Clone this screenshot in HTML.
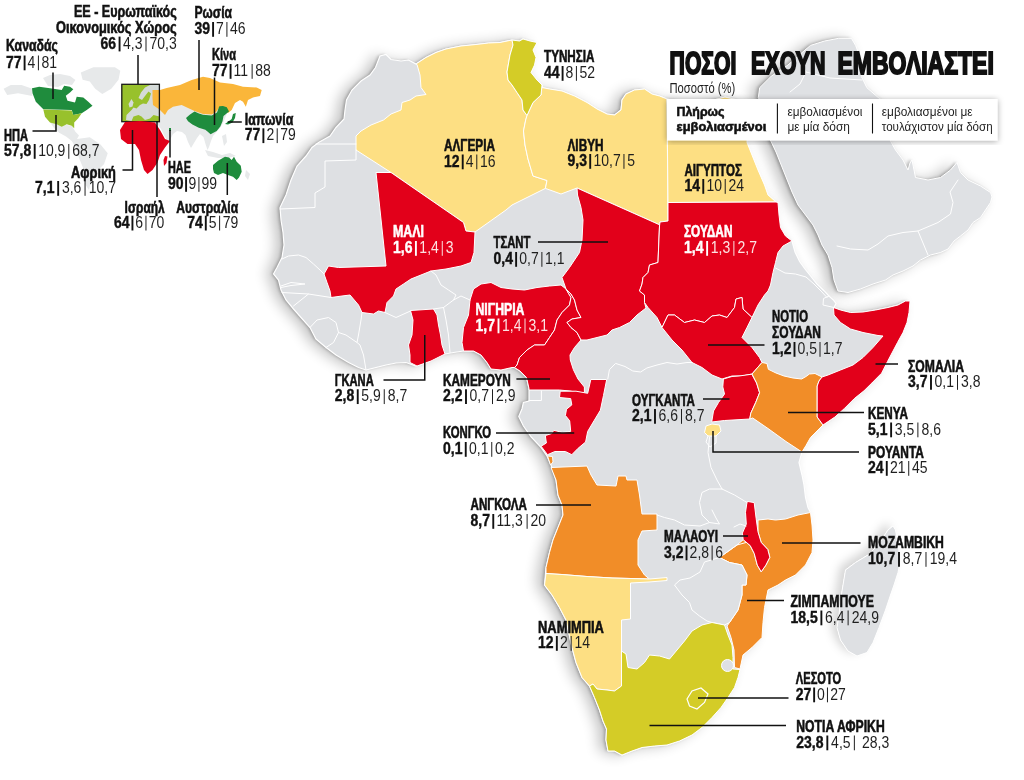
<!DOCTYPE html>
<html><head><meta charset="utf-8"><title>map</title>
<style>
html,body{margin:0;padding:0;background:#fff;}
body{width:1024px;height:780px;overflow:hidden;font-family:"Liberation Sans",sans-serif;}
svg{display:block}
text{font-family:"Liberation Sans",sans-serif;}
.b{font-weight:bold}
</style></head><body>
<svg width="1024" height="780" viewBox="0 0 1024 780">
<defs>
<filter id="sh" x="-10%" y="-10%" width="120%" height="120%" color-interpolation-filters="sRGB">
<feGaussianBlur in="SourceAlpha" stdDeviation="1.6" result="b1"/><feOffset in="b1" dx="-2.2" dy="0" result="o1"/>
<feComponentTransfer in="o1" result="s1"><feFuncA type="linear" slope="0.25"/></feComponentTransfer>
<feGaussianBlur in="SourceAlpha" stdDeviation="7" result="b2"/><feOffset in="b2" dx="-8" dy="1" result="o2"/>
<feComponentTransfer in="o2" result="s2"><feFuncA type="linear" slope="0.24"/></feComponentTransfer>
<feMerge><feMergeNode in="s2"/><feMergeNode in="s1"/><feMergeNode in="SourceGraphic"/></feMerge></filter>
<filter id="sh3" x="-30%" y="-20%" width="160%" height="140%"><feDropShadow dx="-6" dy="-3" stdDeviation="5" flood-color="#000" flood-opacity="0.16"/></filter>
<filter id="sh2" x="-10%" y="-10%" width="120%" height="120%"><feDropShadow dx="0" dy="1" stdDeviation="3" flood-color="#000" flood-opacity="0.35"/></filter>
</defs>
<rect width="1024" height="780" fill="#fff"/>

<g filter="url(#sh)"><path d="M810.5,45.4 L824.6,41 L838.7,38.3 L851.4,38.3 L855.6,45.4 L859.9,56.7 L861.3,76.4 L866.9,87.7 L878.2,97.5 L882,100 L886,120 L890.5,141 L895.5,150 L903,160 L908,170 L910,163 L912,160 L915.5,177.5 L928,180 L940.5,177.5 L950.5,170 L957,162.5 L960.5,172.5 L968,180 L980.5,186 L990.5,192.5 L992,197 L990.5,202.5 L985.5,210 L980.5,217.5 L973,222.5 L968,230 L960.5,236 L954,241 L948,249 L940.5,252.5 L930.5,255 L920.5,260 L913,266 L903,271 L893,275 L885.5,280 L873,284 L860.5,289 L848,292.5 L838,291 L834,280 L832,267.5 L828,255 L822,245 L818,235 L813,225 L805.5,215 L798,205 L792,192 L784,172 L776,152 L768,135 L760,118 L762,105 L758.3,97.5 L759.7,87.7 L771,76.4 L788,65 L800.6,53.8Z" fill="#dfe1e4" stroke="#fff" stroke-width="1"/></g>
<g filter="url(#sh)"><path d="M386,54.5 L391,59.5 L401,61 L408.5,60 L416,64 L426,57.5 L436,52.5 L446,49 L461,46 L476,44.5 L488.5,43 L500,42.5 L512,40 L519.5,41 L523,39 L530,41 L537,42.5 L533,50 L536,57.5 L534.5,65 L531,72.5 L537,80 L542,85 L542,87.5 L549.5,89 L562,91 L574.5,96 L587,102.5 L597,109 L607,114 L614.5,115 L621,110 L622,100 L626,94 L634.5,90 L644.5,89 L652,94 L659.5,96 L667,99 L690,103 L710,101 L725,97 L738,100 L748,105 L747,142.5 L752,155 L758,170 L764.5,185 L768,195 L776,202 L778,202.5 L779,215 L780.5,227.5 L785.5,236 L792,241 L795,252 L799.6,261.5 L805,269 L810.6,276 L817,284 L824,290.7 L829,296 L833.7,300.4 L836,303.5 L834,307.5 L840.5,310 L850.5,312.5 L863,312 L875.5,310 L888,307.5 L898,305 L905.5,301 L910,301 L909,312.5 L907,322.5 L903,332.5 L897.5,342.5 L892.5,352 L887.5,361.5 L881.6,373.2 L871.9,383 L864,390.8 L854.3,398.6 L844.5,408.4 L834.8,417.1 L823,425 L817,431 L810.5,437.5 L806,445.5 L802,452 L799,462.5 L802,475 L804,485 L805.5,497.5 L808,507.5 L810.5,512.5 L812,525 L813,540 L812,552.5 L805.5,565 L795.5,575 L785.5,580 L778,585 L768,590 L764.5,607.5 L763,622.5 L762,637.5 L752,647.5 L743,655 L740,669 L738,677.5 L734.5,687.5 L728,697.5 L721,707.5 L712,717.5 L702,727.5 L692,735 L679.5,741 L667,745 L654.5,746 L642,747.5 L632,751 L622,755 L614.5,751 L608,751 L606,740 L606.5,729 L603,721 L599.5,710 L594.5,697.5 L589.5,686 L582,677.5 L576,662.5 L572,647.5 L566,620 L559.5,607.5 L552,595 L544.5,585 L546,567.5 L549.5,552.5 L553,540 L558,527.5 L563,515 L562,505 L558,495 L556,480 L551,465 L547,456 L541.4,447.8 L531.25,437 L523.4,426 L518.75,416.5 L522,408.75 L523.4,402.5 L529,401 L529,388.5 L526.5,377.5 L520,371 L514.5,367.5 L512,367.5 L501,370 L491,369 L487,362.5 L481,355 L473.5,351 L463.5,351 L453.5,352.5 L445,354 L441,355 L428.5,362 L416,366 L406,362.5 L396,363 L386,365 L376,367.5 L366,370 L358.5,367.5 L348.5,362.5 L336,355 L326,347.5 L316,339 L310,327.5 L301,317.5 L293.5,309 L286,300 L281,290 L278.5,280 L273.5,274 L277,267.5 L282,257.5 L284,245 L283,232.5 L281,220 L280,207.5 L286,195 L291,180 L297,166 L306,156 L312,147.5 L318.5,142.5 L330,136 L336,127.5 L344,119 L345,110 L346.5,100 L352,90 L361,81 L370,75 L375.5,67.5 L380,56Z" fill="#dee0e3"/></g><g filter="url(#sh3)"><path d="M893,526 L888,530 L878,545 L868,555 L855.5,562.5 L845.5,570 L843,585 L840.5,600 L839,615 L837,627.5 L840.5,640 L848,651 L857,656 L867,652.5 L873,642.5 L879,627.5 L885.5,610 L890.5,595 L894,585 L898,572.5 L900.5,560 L898,545 L895.5,530Z" fill="#dee0e3"/></g>
<path d="M386,54.5 L391,59.5 L401,61 L408.5,60 L416,64 L426,57.5 L436,52.5 L446,49 L461,46 L476,44.5 L488.5,43 L500,42.5 L512,40 L519.5,41 L523,39 L530,41 L537,42.5 L533,50 L536,57.5 L534.5,65 L531,72.5 L537,80 L542,85 L542,87.5 L549.5,89 L562,91 L574.5,96 L587,102.5 L597,109 L607,114 L614.5,115 L621,110 L622,100 L626,94 L634.5,90 L644.5,89 L652,94 L659.5,96 L667,99 L690,103 L710,101 L725,97 L738,100 L748,105 L747,142.5 L752,155 L758,170 L764.5,185 L768,195 L776,202 L778,202.5 L779,215 L780.5,227.5 L785.5,236 L792,241 L795,252 L799.6,261.5 L805,269 L810.6,276 L817,284 L824,290.7 L829,296 L833.7,300.4 L836,303.5 L834,307.5 L840.5,310 L850.5,312.5 L863,312 L875.5,310 L888,307.5 L898,305 L905.5,301 L910,301 L909,312.5 L907,322.5 L903,332.5 L897.5,342.5 L892.5,352 L887.5,361.5 L881.6,373.2 L871.9,383 L864,390.8 L854.3,398.6 L844.5,408.4 L834.8,417.1 L823,425 L817,431 L810.5,437.5 L806,445.5 L802,452 L799,462.5 L802,475 L804,485 L805.5,497.5 L808,507.5 L810.5,512.5 L812,525 L813,540 L812,552.5 L805.5,565 L795.5,575 L785.5,580 L778,585 L768,590 L764.5,607.5 L763,622.5 L762,637.5 L752,647.5 L743,655 L740,669 L738,677.5 L734.5,687.5 L728,697.5 L721,707.5 L712,717.5 L702,727.5 L692,735 L679.5,741 L667,745 L654.5,746 L642,747.5 L632,751 L622,755 L614.5,751 L608,751 L606,740 L606.5,729 L603,721 L599.5,710 L594.5,697.5 L589.5,686 L582,677.5 L576,662.5 L572,647.5 L566,620 L559.5,607.5 L552,595 L544.5,585 L546,567.5 L549.5,552.5 L553,540 L558,527.5 L563,515 L562,505 L558,495 L556,480 L551,465 L547,456 L541.4,447.8 L531.25,437 L523.4,426 L518.75,416.5 L522,408.75 L523.4,402.5 L529,401 L529,388.5 L526.5,377.5 L520,371 L514.5,367.5 L512,367.5 L501,370 L491,369 L487,362.5 L481,355 L473.5,351 L463.5,351 L453.5,352.5 L445,354 L441,355 L428.5,362 L416,366 L406,362.5 L396,363 L386,365 L376,367.5 L366,370 L358.5,367.5 L348.5,362.5 L336,355 L326,347.5 L316,339 L310,327.5 L301,317.5 L293.5,309 L286,300 L281,290 L278.5,280 L273.5,274 L277,267.5 L282,257.5 L284,245 L283,232.5 L281,220 L280,207.5 L286,195 L291,180 L297,166 L306,156 L312,147.5 L318.5,142.5 L330,136 L336,127.5 L344,119 L345,110 L346.5,100 L352,90 L361,81 L370,75 L375.5,67.5 L380,56Z" fill="none" stroke="#fff" stroke-width="1.2"/><path d="M893,526 L888,530 L878,545 L868,555 L855.5,562.5 L845.5,570 L843,585 L840.5,600 L839,615 L837,627.5 L840.5,640 L848,651 L857,656 L867,652.5 L873,642.5 L879,627.5 L885.5,610 L890.5,595 L894,585 L898,572.5 L900.5,560 L898,545 L895.5,530Z" fill="none" stroke="#fff" stroke-width="1"/>
<path d="M416,64 L426,57.5 L436,52.5 L446,49 L461,46 L476,44.5 L488.5,43 L500,42.5 L512,40 L513,45 L510,55 L507,72 L508,80 L512,85 L517,92.5 L522,100 L523,110 L527,115.5 L525.7,120 L523.5,131 L525,145 L528,159 L533,176 L547,180.5 L545.4,188.4 L512,205 L506,210 L475,232 L466,231 L463.5,222.5 L457,218 L391,172.5 L356,150 L356,136 L361,131 L371,125 L383.5,120 L391,114 L401,110 L402,102.5 L410,100 L416,96 L426,94.5 L421,87.5 L420,75 L417,64.5Z" fill="#fddf83" stroke="#fff" stroke-width="1" stroke-linejoin="round"/>
<path d="M542,87.5 L549.5,89 L562,91 L574.5,96 L587,102.5 L597,109 L607,114 L614.5,115 L621,110 L622,100 L626,94 L634.5,90 L644.5,89 L652,94 L659.5,96 L667,99 L668,221 L660,222 L660,225 L577,188 L561,194 L545.4,188.4 L547,180.5 L533,176 L528,159 L525,145 L523.5,131 L525.7,120 L527,115.5 L529.5,110 L533,102.5 L541,95 L542,85Z" fill="#fddf83" stroke="#fff" stroke-width="1" stroke-linejoin="round"/>
<path d="M667,99 L690,103 L710,101 L725,97 L738,100 L748,105 L747,142.5 L752,155 L758,170 L764.5,185 L768,195 L776,202 L668,202.5Z" fill="#fddf83" stroke="#fff" stroke-width="1" stroke-linejoin="round"/>
<path d="M512,40 L519.5,41 L523,39 L530,41 L537,42.5 L533,50 L536,57.5 L534.5,65 L531,72.5 L537,80 L542,85 L541,95 L533,102.5 L529.5,110 L527,115.5 L523,110 L522,100 L517,92.5 L512,85 L508,80 L507,72 L510,55 L513,45Z" fill="#d4cc27" stroke="#fff" stroke-width="1" stroke-linejoin="round"/>
<path d="M376,172.5 L391,172.5 L457,218 L463.5,222.5 L466,231 L475,232 L474,252.5 L471,262.5 L461,266 L446,269 L431,271 L421,275 L411,279 L403.5,284 L396,289 L393.5,296 L387,302.5 L385,312.5 L378.5,311 L373.5,314 L362,312.5 L358.5,305 L350,295 L342,296 L331,297.5 L330,291 L327,282.5 L324,274 L328.5,266 L338.5,267.5 L386,266Z" fill="#e2001a" stroke="#fff" stroke-width="1" stroke-linejoin="round"/>
<path d="M410.5,310.5 L433.5,309 L437,315 L438.5,325 L440.5,335 L442,345 L445,354 L431,361 L417,366 L410,362.5 L410,355 L408.5,345 L412,335 L413,320Z" fill="#e2001a" stroke="#fff" stroke-width="1" stroke-linejoin="round"/>
<path d="M470,300 L473.5,289 L481,284 L491,282.5 L501,287.5 L512,289 L524.5,290 L537,287.5 L549.5,286 L561,285 L566,289 L571,297.5 L569.5,305 L562,312.5 L557,320 L554.5,330 L549.5,337.5 L544.5,345 L534.5,345 L527,350 L519.5,357.5 L517,365 L514.5,367.5 L512,367.5 L501,370 L491,369 L487,362.5 L481,355 L473.5,351 L463.5,351 L462,342.5 L463.5,327.5 L468.5,315Z" fill="#e2001a" stroke="#fff" stroke-width="1" stroke-linejoin="round"/>
<path d="M566,289 L571,294 L574.5,300 L577,310 L581,317.5 L572,319 L567,322.5 L571,327.5 L577,332.5 L581,340 L574.5,347.5 L570,355 L570.3,360 L573.4,369.7 L578,379 L584.4,387 L584.4,394 L570,391 L559.4,390 L529,390 L529,388.5 L526.5,377.5 L520,371 L514.5,367.5 L517,365 L519.5,357.5 L527,350 L534.5,345 L544.5,345 L549.5,337.5 L554.5,330 L557,320 L562,312.5 L569.5,305 L571,297.5Z" fill="#e2001a" stroke="#fff" stroke-width="1" stroke-linejoin="round"/>
<path d="M606.7,379.5 L590.8,379.5 L587.7,393.3 L576,391.2 L560.2,391.2 L559.5,397.5 L570.7,398.6 L571.8,404.9 L566.5,409.2 L565.4,415.5 L569.7,420.8 L570.7,431.4 L562.3,432.4 L553.8,430.3 L551.7,433.5 L545.3,435.6 L546.4,443 L541.1,446.2 L547.5,454.7 L554.9,451.5 L565.4,451.5 L571.8,454.7 L578.1,448.3 L585.6,442 L587.7,431.4 L594,420.8 L600.4,410.2 L603.5,395.4Z" fill="#e2001a" stroke="#fff" stroke-width="1" stroke-linejoin="round"/>
<path d="M577,188 L660,225 L659.5,226 L658,262.5 L649.5,265 L648,272.5 L643,277.5 L642,284 L639.5,291 L644.5,295 L644.5,302.5 L646,308 L637,315 L629.5,322.5 L619.5,327.5 L612,330 L607,335 L597,337.5 L587,340 L581,340 L577,332.5 L571,327.5 L567,322.5 L572,319 L581,317.5 L577,310 L574.5,300 L571,294 L566,289 L562,277.5 L569.5,267.5 L579.5,252.5 L582,240 L583,220 L581,207.5 L577.5,195Z" fill="#e2001a" stroke="#fff" stroke-width="1" stroke-linejoin="round"/>
<path d="M668,202.5 L776,202 L778,202.5 L779,215 L780.5,227.5 L785.5,236 L792,241 L783,246 L778,252.5 L775.5,262.5 L773,272.5 L770.5,285 L768,291 L764.5,295 L758,305 L752,317.5 L743,309 L742,297.5 L736,299 L734.5,307.5 L727,317.5 L719.5,315 L712,316 L704.5,322.5 L694.5,320 L684.5,322.5 L674.5,315 L668,315 L662,327.5 L657,317.5 L648,307.5 L644.5,302.5 L644.5,295 L639.5,291 L642,284 L643,277.5 L648,272.5 L649.5,265 L658,262.5 L659.5,226 L660,222 L668,221Z" fill="#e2001a" stroke="#fff" stroke-width="1" stroke-linejoin="round"/>
<path d="M662,327.5 L668,315 L674.5,315 L684.5,322.5 L694.5,320 L704.5,322.5 L712,316 L719.5,315 L727,317.5 L734.5,307.5 L736,299 L742,297.5 L743,309 L752,317.5 L747,327.5 L742,337.5 L752,347.5 L759.5,357.5 L762,362.5 L752,374 L742,376 L732,376 L722,379 L712,375 L702,367.5 L692,362.5 L682,350 L672,340Z" fill="#e2001a" stroke="#fff" stroke-width="1" stroke-linejoin="round"/>
<path d="M723.4,379 L732,376.5 L739,376 L751.8,374.2 L756.6,383 L759.6,392.7 L755.7,402.5 L750.8,413.2 L749.8,419 L724.5,420.5 L711.7,422 L713.5,411 L718.5,402.5 L724.5,394 L722.8,386.9Z" fill="#e2001a" stroke="#fff" stroke-width="1" stroke-linejoin="round"/>
<path d="M752,374 L762,362.5 L767,363.5 L768.4,369.3 L776,373 L784,376 L793,378 L801.6,379 L806,376.5 L809.4,374 L815,373.5 L822,377 L819,381 L817.2,386 L817.2,417 L823,425 L817,431 L810.5,437.5 L806,445.5 L802,452 L786,441.5 L768,428.5 L752.7,418 L749.8,419 L750.8,413.2 L755.7,402.5 L759.6,392.7 L756.6,383Z" fill="#f18d28" stroke="#fff" stroke-width="1" stroke-linejoin="round"/>
<path d="M833.5,307.5 L840.5,310 L850.5,312.5 L863,312 L875.5,310 L888,307.5 L898,305 L905.5,301 L910,301 L909,312.5 L907,322.5 L903,332.5 L897.5,342.5 L892.5,352 L887.5,361.5 L881.6,373.2 L871.9,383 L864,390.8 L854.3,398.6 L844.5,408.4 L834.8,417.1 L823,425 L817.2,417 L817.2,386 L819,381 L822,377 L828,375 L840.5,370 L853,365 L863,357.5 L873,347.5 L883,336 L878,335.5 L863,332.5 L850.5,329 L840.5,322.5 L834,315Z" fill="#e2001a" stroke="#fff" stroke-width="1" stroke-linejoin="round"/>
<path d="M706,426 L712,424 L719.5,425 L721,431 L716,436 L708,436 L704.5,432.5Z" fill="#fddf83" stroke="#fff" stroke-width="1" stroke-linejoin="round"/>
<path d="M551,467.5 L587,466 L591,475 L597,485 L616,486 L618,476 L626,476 L627,480 L637,480 L639.5,495 L642,514 L657,514 L657,530 L642,531 L638,540 L638,565 L644.5,575 L649.5,579 L612,578 L587,576.5 L562,574.5 L546,573.5 L546,567.5 L549.5,552.5 L553,540 L558,527.5 L563,515 L562,505 L558,495 L556,480Z" fill="#f18d28" stroke="#fff" stroke-width="1" stroke-linejoin="round"/>
<path d="M547.5,456 L552.5,456.5 L553,462 L550.5,465Z" fill="#f18d28" stroke="#fff" stroke-width="1" stroke-linejoin="round"/>
<path d="M758,520 L768,519 L775.5,520 L785.5,519 L798,515 L810.5,512.5 L812,525 L813,540 L812,552.5 L805.5,565 L795.5,575 L785.5,580 L778,585 L768,590 L764.5,607.5 L763,622.5 L762,637.5 L752,647.5 L743,655 L740,669 L734.5,667.5 L734,650 L731,637.5 L727,626 L729.5,622.5 L738,610 L742,595 L742,585 L746,585 L747,575 L742,565 L729.5,562.5 L719.5,557.5 L737,545 L743.2,539.7 L750.2,545.6 L754.2,553.4 L757.3,565.1 L761.2,571.8 L765.9,565.1 L769.8,557.3 L767.8,549.5 L761.2,542.4 L758,531.9Z" fill="#f18d28" stroke="#fff" stroke-width="1" stroke-linejoin="round"/>
<path d="M719.5,557.5 L729.5,562.5 L742,565 L747,575 L746,585 L742,585 L742,595 L738,610 L729.5,622.5 L724.5,625 L712,622.5 L707,621 L699.5,616 L692,610 L689.5,602.5 L682,595 L674.5,585 L680,580 L690,578 L700,572 L704.5,562Z" fill="#dee0e3" stroke="#fff" stroke-width="1" stroke-linejoin="round"/>
<path d="M747.1,501.4 L754.2,502.6 L756.1,518.2 L758,531.9 L761.2,542.4 L767.8,549.5 L769.8,557.3 L765.9,565.1 L761.2,571.8 L757.3,565.1 L754.2,553.4 L750.2,545.6 L743.2,539.7 L742.4,533.1 L746.3,524.1 L745.5,512.3Z" fill="#e2001a" stroke="#fff" stroke-width="1" stroke-linejoin="round"/>
<path d="M546,573.5 L562,574.5 L587,576.5 L612,578 L649.5,579 L667,577.5 L667,580.5 L649,582 L630.5,583 L630.5,619 L621.5,620 L621.5,686 L614.5,691 L607,690 L597,689 L593,684 L589.5,686 L582,677.5 L576,662.5 L572,647.5 L566,620 L559.5,607.5 L552,595 L544.5,585Z" fill="#fddf83" stroke="#fff" stroke-width="1" stroke-linejoin="round"/>
<path d="M589.5,686 L593,684 L597,689 L607,690 L614.5,691 L621.5,686 L621.5,651 L626,654 L628,667.5 L637,669 L644.5,662.5 L649.5,655 L659.5,656 L669.5,659 L677,650 L684.5,641 L692,631 L702,625 L712,622.5 L724.5,625 L728,635 L732,645 L733,657.5 L733,669 L740,669.5 L738,677.5 L734.5,687.5 L728,697.5 L721,707.5 L712,717.5 L702,727.5 L692,735 L679.5,741 L667,745 L654.5,746 L642,747.5 L632,751 L622,755 L614.5,751 L608,751 L606,740 L606.5,729 L603,721 L599.5,710 L594.5,697.5Z" fill="#d4cc27" stroke="#fff" stroke-width="1" stroke-linejoin="round"/>
<path d="M687,699 L692,691 L701,688 L708,694 L704.5,702.5 L697,709 L689.5,706Z" fill="#d4cc27" stroke="#fff" stroke-width="1.2"/>
<circle cx="727.5" cy="665.5" r="6" fill="#dee0e3" stroke="#fff" stroke-width="1"/>
<g fill="none" stroke="#fff" stroke-width="1" stroke-linejoin="round" stroke-linecap="round">
<path d="M316,144 L356,144"/>
<path d="M356,150 L356,160 L325,161 L325,187 L315,193 L315,207.5 L280,209"/>
<path d="M282,259 L288.5,256 L298.5,255 L306,257.5 L313.5,264 L320,270 L324,274"/>
<path d="M281,286 L291,282.5 L305,284 L291,285.5 L281,287.5"/>
<path d="M282,292.5 L308.5,294 L331,297.5"/>
<path d="M308.5,294 L301,300 L293.5,306"/>
<path d="M310,327.5 L317,320 L328.5,317.5 L336,322.5 L338.5,332.5 L333.5,342.5 L326,347.5"/>
<path d="M338.5,332.5 L346,335 L357,342.5 L358.5,335"/>
<path d="M357,342.5 L360,345 L363.5,355 L366,370"/>
<path d="M358.5,335 L361,320 L362,312.5"/>
<path d="M385,312.5 L396,317.5 L410.5,311"/>
<path d="M431,271 L436,275 L441,285 L448.5,290 L456,295 L453.5,300"/>
<path d="M433.5,309 L443.5,307.5 L453.5,300 L461,296 L470,300"/>
<path d="M443.5,307.5 L446,320 L448.5,335 L450,352.5"/>
<path d="M607.8,379 L609.4,369.7 L615.6,363.4 L625,366.5 L632.8,371 L640.6,372 L646.9,368 L657,365 L667,362.5 L677,364 L687,362.5 L692,362.5"/>
<path d="M529,400.5 L541.4,400.5 L541.4,391"/>
<path d="M775.5,268 L785,273 L795.5,274 L806,277 L814,284 L821,291 L827,297.5"/>
<path d="M829,296 L823.5,298.5 L823,305 L834,307.5"/>
<path d="M709.5,437.5 L708,452.5 L711,467.5 L717,480 L722,489"/>
<path d="M708,436 L706,442 L710,447 L716,443 L716,436"/>
<path d="M722,489 L734.5,495 L744.5,501 L747,502.5"/>
<path d="M722,489 L709.5,489 L702,492.5 L699.5,502.5 L702,515 L709.5,522.5 L719.5,524 L716,518 L712,510"/>
<path d="M709.5,522.5 L700,526 L684.5,525 L674.5,520 L664.5,517.5 L657,515"/>
<path d="M719.5,557.5 L737,545 L746,542.5"/>
<path d="M746,526 L740,524 L734,527"/>
<path d="M837,246 L850.5,249 L868,250 L878,244 L888,236 L903,232.5 L918,231 L938,222.5 L950.5,214 L953,202.5 L950,192 L958,180"/>
<path d="M918,231 L928,255"/>
<path d="M800,60 L806,72 L800,84 L790,92"/>
<path d="M806,72 L830,78 L862,80"/>
</g>
<path d="M3.6,88.7 L10.8,85.1 L21.5,85.1 L32.3,88.7 L32.3,95.9 L18,93.2 L7.2,95Z" fill="#e7e9ea"/>
<path d="M43,78 L50,75 L60,74 L70,76 L75.4,80 L72,85 L64,84 L58,87 L48,86Z" fill="#e7e9ea"/>
<path d="M80.8,72.6 L93.4,67.2 L114.9,67.2 L120.3,70.8 L118.5,79.7 L111.3,88.7 L102.3,94.1 L95.2,88.7 L89.8,81.5 L82.6,79.7Z" fill="#e7e9ea"/>
<path d="M50,122 L62,124 L72,126 L75.4,131.8 L79,135.4 L77,139 L89.8,137.2 L100.5,144.4 L107.7,153.3 L104.1,164.1 L97,171.3 L91.6,178.5 L89,190 L85,184 L84,170 L79,158 L76,148 L71.8,141 L66,136.5 L59.2,132.8 L54,128Z" fill="#e7e9ea"/>
<path d="M152,98 L160,104 L175,103 L190,104 L205,106 L220,104 L228,110 L226,116 L223,123 L220,128 L216.7,131.7 L213,136 L211,141 L209,147 L207.5,150 L205.5,144 L203.5,137 L200,134 L197,138 L194,143 L191,148 L188,142 L185.5,135 L182,132 L177,131 L173,134 L170.5,139 L168,142 L164.5,136 L161,129 L157.5,124 L154,122 L152,118Z" fill="#e7e9ea"/>
<path d="M205,150 L213,152 L222,155 L230,153 L236,156 L228,158 L218,158 L208,156Z" fill="#e7e9ea"/>
<path d="M222,136 L226,134 L227,142 L224,146Z" fill="#e7e9ea"/>
<path d="M246,170 L250,174 L248,180 L245,176Z" fill="#e7e9ea"/>
<rect x="121.8" y="84.3" width="37.6" height="37.4" fill="#98c12c"/>
<path d="M159.4,85 L150,85 L145,87.5 L141,92.5 L138.5,98 L142,100 L145,96 L148.5,91.5 L151,93.5 L149,100 L146.5,104 L143,103.5 L140,105 L136.5,108.5 L133.5,107.5 L131.5,110 L126.5,115 L126,120 L131.5,121 L133.5,116.5 L138.5,115 L141.5,116.5 L145,120 L150,118.5 L153.5,115 L159.4,116.5Z" fill="#d5dbd9"/>
<path d="M131.5,99 L133.5,102.5 L132.5,106.5 L129.5,107.5 L128.5,104Z" fill="#d5dbd9"/>
<path d="M152.5,90 L160,90 L166.7,88 L180,85 L191.7,80 L203,76.7 L210,78 L220,82.5 L233,84 L243,86.7 L256.7,87.5 L261.7,90 L260,96 L253,97.5 L248,100 L245.8,106.7 L243,101.7 L240,100 L235,103 L231.7,110 L228,113 L225,110 L220,106.5 L216,112 L211.7,114.5 L203,114 L194.5,111 L188,108 L181.7,105 L173,106.7 L168,110 L165,115 L160,110 L153,105 L152.5,98Z" fill="#fab63a"/>
<rect x="121.8" y="84.3" width="37.6" height="37.4" fill="none" stroke="#1a1a1a" stroke-width="1.3"/>
<path d="M32,88.3 L39.2,86.7 L50,88.3 L61.7,90 L64.2,85.8 L70,86.7 L73.3,89.2 L70,92.5 L65.8,95.8 L67.5,100.8 L75,102.5 L76.7,96.7 L83.3,97.5 L88.3,101.7 L92.5,105.8 L86.7,110 L81.7,113.3 L73.3,115 L71.7,110 L43.3,109.2 L35.8,101.7 L32.5,93.3Z" fill="#1f8c3d"/>
<path d="M43.3,109.6 L71.7,110.4 L73.3,115 L81.7,113.3 L78.3,118.3 L74.2,122.5 L74.2,128.3 L71.7,125.8 L66.7,124.2 L61.7,126.7 L56.7,124.2 L50,122.5 L45,116.7Z" fill="#98c12c"/>
<path d="M186,118 L190,114.5 L194.5,111.6 L199,113.5 L203,114.8 L211.7,115.5 L217,112.6 L219.3,106.2 L223,106 L226.8,107.3 L229,111.6 L223.5,115.9 L222.5,121.2 L220.3,126.6 L216.7,131 L213.9,132.5 L210.6,134.2 L207.5,131.5 L205.3,129.8 L198.8,127.7 L192.4,124.5 L188,121.2Z" fill="#1f8c3d"/>
<path d="M225,124 L228,121.7 L231.7,119 L233,114 L235.8,113 L235,118 L232.5,122.5 L228,124.5Z" fill="#1f8c3d"/>
<path d="M213,165 L218,160.8 L225,156.7 L229,157.5 L231.7,160 L234,156.7 L236.7,161.7 L240.8,165.8 L241.7,171.7 L239,177.5 L236.7,180 L233,176.7 L228,175 L223,173 L218,175 L214,173 L213,169Z" fill="#1f8c3d"/>
<path d="M169,128 L171,128 L171,131 L169,131Z" fill="#1f8c3d"/>
<path d="M125,122 L140,121 L155,122.5 L160,130 L165,139 L170,141 L165,147.5 L160,155 L157.5,162.5 L152.5,170 L147.5,174 L144,170 L141,160 L139,150 L135,144 L127.5,144 L121,139 L120,130Z" fill="#e2001a"/>
<path d="M165,156 L167.5,156.5 L166.5,163 L164,166 L163.5,160Z" fill="#e2001a"/>
<g filter="url(#sh2)"><rect x="667" y="99" width="330.5" height="41.5" fill="#fff"/></g>
<path d="M777.4,103.5V133.5M872.5,103.5V133.5" stroke="#111" stroke-width="1.1"/>
<g fill="none" stroke="#111" stroke-width="1.5">
<path d="M538,242 L608,242"/>
<path d="M708,345 L764.5,345"/>
<path d="M516.4,379 L550,379"/>
<path d="M424.75,335 L424.75,380 L383.5,380"/>
<path d="M496,433 L574.2,433"/>
<path d="M875.5,364 L898,364"/>
<path d="M703,399 L729.5,399"/>
<path d="M788,412.5 L864,412.5"/>
<path d="M713,431 L713,452 L859,452"/>
<path d="M536,505 L591,505"/>
<path d="M723,536 L748,536"/>
<path d="M782,543 L860.5,543"/>
<path d="M747,600.5 L784,600.5"/>
<path d="M698,698 L788.5,698"/>
<path d="M649.5,725.5 L786,725.5"/>
<path d="M138,55 L138,84"/>
<path d="M199,40 L199,90"/>
<path d="M214.5,77.5 L214.5,125"/>
<path d="M53,72.5 L53,99"/>
<path d="M32.5,131 L56,131 L56,115"/>
<path d="M122.5,170 L132.5,170 L132.5,130"/>
<path d="M170,130 L170,157.5"/>
<path d="M157,121 L157,197"/>
<path d="M227.3,163 L227.3,195"/>
<path d="M227.7,122 L241.8,122"/>
</g>
<g opacity="0.999">
<text xml:space="preserve" transform="translate(544,62) scale(0.7167,1)" font-size="16.3" font-weight="bold" fill="#111" stroke="#111" stroke-width="0.6" stroke-linejoin="miter">ΤΥΝΗΣΙΑ</text>
<text xml:space="preserve" transform="translate(544.00,78) scale(0.875,1)" font-size="16" font-weight="bold" fill="#111" stroke="#111" stroke-width="0.4">44</text>
<path d="M562.59,66.00V80.80" stroke="#111" stroke-width="1.9"/>
<text xml:space="preserve" transform="translate(565.61,78) scale(0.875,1)" font-size="16" fill="#1f1f1f">8</text>
<path d="M576.41,66.00V80.80" stroke="#1f1f1f" stroke-width="1"/>
<text xml:space="preserve" transform="translate(579.43,78) scale(0.875,1)" font-size="16" fill="#1f1f1f">52</text>
<text xml:space="preserve" transform="translate(444,151.3) scale(0.7234,1)" font-size="16.3" font-weight="bold" fill="#111" stroke="#111" stroke-width="0.6" stroke-linejoin="miter">ΑΛΓΕΡΙΑ</text>
<text xml:space="preserve" transform="translate(444.00,166.5) scale(0.875,1)" font-size="16" font-weight="bold" fill="#111" stroke="#111" stroke-width="0.4">12</text>
<path d="M462.71,154.50V169.30" stroke="#111" stroke-width="1.9"/>
<text xml:space="preserve" transform="translate(465.86,166.5) scale(0.875,1)" font-size="16" fill="#1f1f1f">4</text>
<path d="M476.79,154.50V169.30" stroke="#1f1f1f" stroke-width="1"/>
<text xml:space="preserve" transform="translate(479.93,166.5) scale(0.875,1)" font-size="16" fill="#1f1f1f">16</text>
<text xml:space="preserve" transform="translate(567.5,150.8) scale(0.7226,1)" font-size="16.3" font-weight="bold" fill="#111" stroke="#111" stroke-width="0.6" stroke-linejoin="miter">ΛΙΒΥΗ</text>
<text xml:space="preserve" transform="translate(567.50,166) scale(0.875,1)" font-size="16" font-weight="bold" fill="#111" stroke="#111" stroke-width="0.4">9,3</text>
<path d="M590.21,154.00V168.80" stroke="#111" stroke-width="1.9"/>
<text xml:space="preserve" transform="translate(593.47,166) scale(0.875,1)" font-size="16" fill="#1f1f1f">10,7</text>
<path d="M623.96,154.00V168.80" stroke="#1f1f1f" stroke-width="1"/>
<text xml:space="preserve" transform="translate(627.22,166) scale(0.875,1)" font-size="16" fill="#1f1f1f">5</text>
<text xml:space="preserve" transform="translate(684.5,175.5) scale(0.7110,1)" font-size="16.3" font-weight="bold" fill="#111" stroke="#111" stroke-width="0.6" stroke-linejoin="miter">ΑΙΓΥΠΤΟΣ</text>
<text xml:space="preserve" transform="translate(684.50,191) scale(0.875,1)" font-size="16" font-weight="bold" fill="#111" stroke="#111" stroke-width="0.4">14</text>
<path d="M703.27,179.00V193.80" stroke="#111" stroke-width="1.9"/>
<text xml:space="preserve" transform="translate(706.47,191) scale(0.875,1)" font-size="16" fill="#1f1f1f">10</text>
<path d="M725.23,179.00V193.80" stroke="#1f1f1f" stroke-width="1"/>
<text xml:space="preserve" transform="translate(728.43,191) scale(0.875,1)" font-size="16" fill="#1f1f1f">24</text>
<text xml:space="preserve" transform="translate(393,236.8) scale(0.7607,1)" font-size="16.3" font-weight="bold" fill="#fff" stroke="#fff" stroke-width="0.6" stroke-linejoin="miter">ΜΑΛΙ</text>
<text xml:space="preserve" transform="translate(393.00,253) scale(0.875,1)" font-size="16" font-weight="bold" fill="#fff" stroke="#fff" stroke-width="0.4">1,6</text>
<path d="M415.91,241.00V255.80" stroke="#fff" stroke-width="1.9"/>
<text xml:space="preserve" transform="translate(419.36,253) scale(0.875,1)" font-size="16" fill="#fde3e3">1,4</text>
<path d="M442.27,241.00V255.80" stroke="#fde3e3" stroke-width="1"/>
<text xml:space="preserve" transform="translate(445.72,253) scale(0.875,1)" font-size="16" fill="#fde3e3">3</text>
<text xml:space="preserve" transform="translate(493.5,248.3) scale(0.6949,1)" font-size="16.3" font-weight="bold" fill="#111" stroke="#111" stroke-width="0.6" stroke-linejoin="miter">ΤΣΑΝΤ</text>
<text xml:space="preserve" transform="translate(493.50,264) scale(0.875,1)" font-size="16" font-weight="bold" fill="#111" stroke="#111" stroke-width="0.4">0,4</text>
<path d="M516.12,252.00V266.80" stroke="#111" stroke-width="1.9"/>
<text xml:space="preserve" transform="translate(519.27,264) scale(0.875,1)" font-size="16" fill="#1f1f1f">0,7</text>
<path d="M541.88,252.00V266.80" stroke="#1f1f1f" stroke-width="1"/>
<text xml:space="preserve" transform="translate(545.04,264) scale(0.875,1)" font-size="16" fill="#1f1f1f">1,1</text>
<text xml:space="preserve" transform="translate(684,237.3) scale(0.7276,1)" font-size="16.3" font-weight="bold" fill="#fff" stroke="#fff" stroke-width="0.6" stroke-linejoin="miter">ΣΟΥΔΑΝ</text>
<text xml:space="preserve" transform="translate(684.00,253) scale(0.875,1)" font-size="16" font-weight="bold" fill="#fff" stroke="#fff" stroke-width="0.4">1,4</text>
<path d="M707.12,241.00V255.80" stroke="#fff" stroke-width="1.9"/>
<text xml:space="preserve" transform="translate(710.77,253) scale(0.875,1)" font-size="16" fill="#fde3e3">1,3</text>
<path d="M733.88,241.00V255.80" stroke="#fde3e3" stroke-width="1"/>
<text xml:space="preserve" transform="translate(737.54,253) scale(0.875,1)" font-size="16" fill="#fde3e3">2,7</text>
<text xml:space="preserve" transform="translate(475.5,314.8) scale(0.7533,1)" font-size="16.3" font-weight="bold" fill="#fff" stroke="#fff" stroke-width="0.6" stroke-linejoin="miter">ΝΙΓΗΡΙΑ</text>
<text xml:space="preserve" transform="translate(475.50,330.5) scale(0.875,1)" font-size="16" font-weight="bold" fill="#fff" stroke="#fff" stroke-width="0.4">1,7</text>
<path d="M498.49,318.50V333.30" stroke="#fff" stroke-width="1.9"/>
<text xml:space="preserve" transform="translate(502.02,330.5) scale(0.875,1)" font-size="16" fill="#fde3e3">1,4</text>
<path d="M525.01,318.50V333.30" stroke="#fde3e3" stroke-width="1"/>
<text xml:space="preserve" transform="translate(528.54,330.5) scale(0.875,1)" font-size="16" fill="#fde3e3">3,1</text>
<text xml:space="preserve" transform="translate(908,371.8) scale(0.7467,1)" font-size="16.3" font-weight="bold" fill="#111" stroke="#111" stroke-width="0.6" stroke-linejoin="miter">ΣΟΜΑΛΙΑ</text>
<text xml:space="preserve" transform="translate(908.00,387) scale(0.875,1)" font-size="16" font-weight="bold" fill="#111" stroke="#111" stroke-width="0.4">3,7</text>
<path d="M930.99,375.00V389.80" stroke="#111" stroke-width="1.9"/>
<text xml:space="preserve" transform="translate(934.52,387) scale(0.875,1)" font-size="16" fill="#1f1f1f">0,1</text>
<path d="M957.51,375.00V389.80" stroke="#1f1f1f" stroke-width="1"/>
<text xml:space="preserve" transform="translate(961.04,387) scale(0.875,1)" font-size="16" fill="#1f1f1f">3,8</text>
<text xml:space="preserve" transform="translate(334.75,385.8) scale(0.6854,1)" font-size="16.3" font-weight="bold" fill="#111" stroke="#111" stroke-width="0.6" stroke-linejoin="miter">ΓΚΑΝΑ</text>
<text xml:space="preserve" transform="translate(334.75,401.25) scale(0.875,1)" font-size="16" font-weight="bold" fill="#111" stroke="#111" stroke-width="0.4">2,8</text>
<path d="M357.74,389.25V404.05" stroke="#111" stroke-width="1.9"/>
<text xml:space="preserve" transform="translate(361.27,401.25) scale(0.875,1)" font-size="16" fill="#1f1f1f">5,9</text>
<path d="M384.26,389.25V404.05" stroke="#1f1f1f" stroke-width="1"/>
<text xml:space="preserve" transform="translate(387.79,401.25) scale(0.875,1)" font-size="16" fill="#1f1f1f">8,7</text>
<text xml:space="preserve" transform="translate(443,385.5) scale(0.7254,1)" font-size="16.3" font-weight="bold" fill="#111" stroke="#111" stroke-width="0.6" stroke-linejoin="miter">ΚΑΜΕΡΟΥΝ</text>
<text xml:space="preserve" transform="translate(443.00,401.25) scale(0.875,1)" font-size="16" font-weight="bold" fill="#111" stroke="#111" stroke-width="0.4">2,2</text>
<path d="M465.99,389.25V404.05" stroke="#111" stroke-width="1.9"/>
<text xml:space="preserve" transform="translate(469.52,401.25) scale(0.875,1)" font-size="16" fill="#1f1f1f">0,7</text>
<path d="M492.51,389.25V404.05" stroke="#1f1f1f" stroke-width="1"/>
<text xml:space="preserve" transform="translate(496.04,401.25) scale(0.875,1)" font-size="16" fill="#1f1f1f">2,9</text>
<text xml:space="preserve" transform="translate(632,405.8) scale(0.7100,1)" font-size="16.3" font-weight="bold" fill="#111" stroke="#111" stroke-width="0.6" stroke-linejoin="miter">ΟΥΓΚΑΝΤΑ</text>
<text xml:space="preserve" transform="translate(632.00,421) scale(0.875,1)" font-size="16" font-weight="bold" fill="#111" stroke="#111" stroke-width="0.4">2,1</text>
<path d="M654.99,409.00V423.80" stroke="#111" stroke-width="1.9"/>
<text xml:space="preserve" transform="translate(658.52,421) scale(0.875,1)" font-size="16" fill="#1f1f1f">6,6</text>
<path d="M681.51,409.00V423.80" stroke="#1f1f1f" stroke-width="1"/>
<text xml:space="preserve" transform="translate(685.04,421) scale(0.875,1)" font-size="16" fill="#1f1f1f">8,7</text>
<text xml:space="preserve" transform="translate(868,418.8) scale(0.7196,1)" font-size="16.3" font-weight="bold" fill="#111" stroke="#111" stroke-width="0.6" stroke-linejoin="miter">ΚΕΝΥΑ</text>
<text xml:space="preserve" transform="translate(868.00,434.5) scale(0.875,1)" font-size="16" font-weight="bold" fill="#111" stroke="#111" stroke-width="0.4">5,1</text>
<path d="M891.12,422.50V437.30" stroke="#111" stroke-width="1.9"/>
<text xml:space="preserve" transform="translate(894.77,434.5) scale(0.875,1)" font-size="16" fill="#1f1f1f">3,5</text>
<path d="M917.88,422.50V437.30" stroke="#1f1f1f" stroke-width="1"/>
<text xml:space="preserve" transform="translate(921.54,434.5) scale(0.875,1)" font-size="16" fill="#1f1f1f">8,6</text>
<text xml:space="preserve" transform="translate(443,438) scale(0.6958,1)" font-size="16.3" font-weight="bold" fill="#111" stroke="#111" stroke-width="0.6" stroke-linejoin="miter">ΚΟΝΓΚΟ</text>
<text xml:space="preserve" transform="translate(443.00,454) scale(0.875,1)" font-size="16" font-weight="bold" fill="#111" stroke="#111" stroke-width="0.4">0,1</text>
<path d="M465.74,442.00V456.80" stroke="#111" stroke-width="1.9"/>
<text xml:space="preserve" transform="translate(469.02,454) scale(0.875,1)" font-size="16" fill="#1f1f1f">0,1</text>
<path d="M491.76,442.00V456.80" stroke="#1f1f1f" stroke-width="1"/>
<text xml:space="preserve" transform="translate(495.04,454) scale(0.875,1)" font-size="16" fill="#1f1f1f">0,2</text>
<text xml:space="preserve" transform="translate(868,457.8) scale(0.7315,1)" font-size="16.3" font-weight="bold" fill="#111" stroke="#111" stroke-width="0.6" stroke-linejoin="miter">ΡΟΥΑΝΤΑ</text>
<text xml:space="preserve" transform="translate(868.00,473) scale(0.875,1)" font-size="16" font-weight="bold" fill="#111" stroke="#111" stroke-width="0.4">24</text>
<path d="M886.77,461.00V475.80" stroke="#111" stroke-width="1.9"/>
<text xml:space="preserve" transform="translate(889.97,473) scale(0.875,1)" font-size="16" fill="#1f1f1f">21</text>
<path d="M908.73,461.00V475.80" stroke="#1f1f1f" stroke-width="1"/>
<text xml:space="preserve" transform="translate(911.93,473) scale(0.875,1)" font-size="16" fill="#1f1f1f">45</text>
<text xml:space="preserve" transform="translate(470.5,510.2) scale(0.7129,1)" font-size="16.3" font-weight="bold" fill="#111" stroke="#111" stroke-width="0.6" stroke-linejoin="miter">ΑΝΓΚΟΛΑ</text>
<text xml:space="preserve" transform="translate(470.50,526) scale(0.875,1)" font-size="16" font-weight="bold" fill="#111" stroke="#111" stroke-width="0.4">8,7</text>
<path d="M493.27,514.00V528.80" stroke="#111" stroke-width="1.9"/>
<text xml:space="preserve" transform="translate(496.57,526) scale(0.875,1)" font-size="16" fill="#1f1f1f">11,3</text>
<path d="M527.12,514.00V528.80" stroke="#1f1f1f" stroke-width="1"/>
<text xml:space="preserve" transform="translate(530.43,526) scale(0.875,1)" font-size="16" fill="#1f1f1f">20</text>
<text xml:space="preserve" transform="translate(664,541.8) scale(0.7182,1)" font-size="16.3" font-weight="bold" fill="#111" stroke="#111" stroke-width="0.6" stroke-linejoin="miter">ΜΑΛΑΟΥΙ</text>
<text xml:space="preserve" transform="translate(664.00,557.5) scale(0.875,1)" font-size="16" font-weight="bold" fill="#111" stroke="#111" stroke-width="0.4">3,2</text>
<path d="M686.53,545.50V560.30" stroke="#111" stroke-width="1.9"/>
<text xml:space="preserve" transform="translate(689.61,557.5) scale(0.875,1)" font-size="16" fill="#1f1f1f">2,8</text>
<path d="M712.14,545.50V560.30" stroke="#1f1f1f" stroke-width="1"/>
<text xml:space="preserve" transform="translate(715.22,557.5) scale(0.875,1)" font-size="16" fill="#1f1f1f">6</text>
<text xml:space="preserve" transform="translate(868,548.3) scale(0.7494,1)" font-size="16.3" font-weight="bold" fill="#111" stroke="#111" stroke-width="0.6" stroke-linejoin="miter">ΜΟΖΑΜΒΙΚΗ</text>
<text xml:space="preserve" transform="translate(868.00,564) scale(0.875,1)" font-size="16" font-weight="bold" fill="#111" stroke="#111" stroke-width="0.4">10,7</text>
<path d="M899.01,552.00V566.80" stroke="#111" stroke-width="1.9"/>
<text xml:space="preserve" transform="translate(902.77,564) scale(0.875,1)" font-size="16" fill="#1f1f1f">8,7</text>
<path d="M925.99,552.00V566.80" stroke="#1f1f1f" stroke-width="1"/>
<text xml:space="preserve" transform="translate(929.76,564) scale(0.875,1)" font-size="16" fill="#1f1f1f">19,4</text>
<text xml:space="preserve" transform="translate(790.5,606.8) scale(0.7528,1)" font-size="16.3" font-weight="bold" fill="#111" stroke="#111" stroke-width="0.6" stroke-linejoin="miter">ΖΙΜΠΑΜΠΟΥΕ</text>
<text xml:space="preserve" transform="translate(790.50,622.5) scale(0.875,1)" font-size="16" font-weight="bold" fill="#111" stroke="#111" stroke-width="0.4">18,5</text>
<path d="M821.38,610.50V625.30" stroke="#111" stroke-width="1.9"/>
<text xml:space="preserve" transform="translate(825.02,622.5) scale(0.875,1)" font-size="16" fill="#1f1f1f">6,4</text>
<path d="M848.12,610.50V625.30" stroke="#1f1f1f" stroke-width="1"/>
<text xml:space="preserve" transform="translate(851.76,622.5) scale(0.875,1)" font-size="16" fill="#1f1f1f">24,9</text>
<text xml:space="preserve" transform="translate(538,632.8) scale(0.7923,1)" font-size="16.3" font-weight="bold" fill="#111" stroke="#111" stroke-width="0.6" stroke-linejoin="miter">ΝΑΜΙΜΠΙΑ</text>
<text xml:space="preserve" transform="translate(538.00,648) scale(0.875,1)" font-size="16" font-weight="bold" fill="#111" stroke="#111" stroke-width="0.4">12</text>
<path d="M556.84,636.00V650.80" stroke="#111" stroke-width="1.9"/>
<text xml:space="preserve" transform="translate(560.11,648) scale(0.875,1)" font-size="16" fill="#1f1f1f">2</text>
<path d="M571.16,636.00V650.80" stroke="#1f1f1f" stroke-width="1"/>
<text xml:space="preserve" transform="translate(574.43,648) scale(0.875,1)" font-size="16" fill="#1f1f1f">14</text>
<text xml:space="preserve" transform="translate(795.8,683.8) scale(0.6836,1)" font-size="16.3" font-weight="bold" fill="#111" stroke="#111" stroke-width="0.6" stroke-linejoin="miter">ΛΕΣΟΤΟ</text>
<text xml:space="preserve" transform="translate(795.80,699.5) scale(0.875,1)" font-size="16" font-weight="bold" fill="#111" stroke="#111" stroke-width="0.4">27</text>
<path d="M814.14,687.50V702.30" stroke="#111" stroke-width="1.9"/>
<text xml:space="preserve" transform="translate(816.91,699.5) scale(0.875,1)" font-size="16" fill="#1f1f1f">0</text>
<path d="M827.46,687.50V702.30" stroke="#1f1f1f" stroke-width="1"/>
<text xml:space="preserve" transform="translate(830.23,699.5) scale(0.875,1)" font-size="16" fill="#1f1f1f">27</text>
<text xml:space="preserve" transform="translate(796.3,731.55) scale(0.7481,1)" font-size="16.3" font-weight="bold" fill="#111" stroke="#111" stroke-width="0.6" stroke-linejoin="miter">ΝΟΤΙΑ ΑΦΡΙΚΗ</text>
<text xml:space="preserve" transform="translate(796.30,747.5) scale(0.875,1)" font-size="16" font-weight="bold" fill="#111" stroke="#111" stroke-width="0.4">23,8</text>
<path d="M827.33,735.50V750.30" stroke="#111" stroke-width="1.9"/>
<text xml:space="preserve" transform="translate(831.12,747.5) scale(0.875,1)" font-size="16" fill="#1f1f1f">4,5</text>
<path d="M854.37,735.50V750.30" stroke="#1f1f1f" stroke-width="1"/>
<text xml:space="preserve" transform="translate(858.16,747.5) scale(0.875,1)" font-size="16" fill="#1f1f1f"> 28,3</text>
<text xml:space="preserve" transform="translate(6,51.3) scale(0.7547,1)" font-size="16.3" font-weight="bold" fill="#111" stroke="#111" stroke-width="0.6" stroke-linejoin="miter">Καναδάς</text>
<text xml:space="preserve" transform="translate(6.00,67.5) scale(0.875,1)" font-size="16" font-weight="bold" fill="#111" stroke="#111" stroke-width="0.4">77</text>
<path d="M24.59,55.50V70.30" stroke="#111" stroke-width="1.9"/>
<text xml:space="preserve" transform="translate(27.61,67.5) scale(0.875,1)" font-size="16" fill="#1f1f1f">4</text>
<path d="M38.41,55.50V70.30" stroke="#1f1f1f" stroke-width="1"/>
<text xml:space="preserve" transform="translate(41.43,67.5) scale(0.875,1)" font-size="16" fill="#1f1f1f">81</text>
<text xml:space="preserve" transform="translate(194.5,17.8) scale(0.7449,1)" font-size="16.3" font-weight="bold" fill="#111" stroke="#111" stroke-width="0.6" stroke-linejoin="miter">Ρωσία</text>
<text xml:space="preserve" transform="translate(194.50,34) scale(0.875,1)" font-size="16" font-weight="bold" fill="#111" stroke="#111" stroke-width="0.4">39</text>
<path d="M213.09,22.00V36.80" stroke="#111" stroke-width="1.9"/>
<text xml:space="preserve" transform="translate(216.11,34) scale(0.875,1)" font-size="16" fill="#1f1f1f">7</text>
<path d="M226.91,22.00V36.80" stroke="#1f1f1f" stroke-width="1"/>
<text xml:space="preserve" transform="translate(229.93,34) scale(0.875,1)" font-size="16" fill="#1f1f1f">46</text>
<text xml:space="preserve" transform="translate(212,60.3) scale(0.6779,1)" font-size="16.3" font-weight="bold" fill="#111" stroke="#111" stroke-width="0.6" stroke-linejoin="miter">Κίνα</text>
<text xml:space="preserve" transform="translate(212.00,76) scale(0.875,1)" font-size="16" font-weight="bold" fill="#111" stroke="#111" stroke-width="0.4">77</text>
<path d="M230.57,64.00V78.80" stroke="#111" stroke-width="1.9"/>
<text xml:space="preserve" transform="translate(233.57,76) scale(0.875,1)" font-size="16" fill="#1f1f1f">11</text>
<path d="M252.13,64.00V78.80" stroke="#1f1f1f" stroke-width="1"/>
<text xml:space="preserve" transform="translate(255.13,76) scale(0.875,1)" font-size="16" fill="#1f1f1f">88</text>
<text xml:space="preserve" transform="translate(244.8,124.9) scale(0.7583,1)" font-size="16.3" font-weight="bold" fill="#111" stroke="#111" stroke-width="0.6" stroke-linejoin="miter">Ιαπωνία</text>
<text xml:space="preserve" transform="translate(244.80,140.3) scale(0.875,1)" font-size="16" font-weight="bold" fill="#111" stroke="#111" stroke-width="0.4">77</text>
<path d="M263.39,128.30V143.10" stroke="#111" stroke-width="1.9"/>
<text xml:space="preserve" transform="translate(266.41,140.3) scale(0.875,1)" font-size="16" fill="#1f1f1f">2</text>
<path d="M277.21,128.30V143.10" stroke="#1f1f1f" stroke-width="1"/>
<text xml:space="preserve" transform="translate(280.23,140.3) scale(0.875,1)" font-size="16" fill="#1f1f1f">79</text>
<text xml:space="preserve" transform="translate(4,140.8) scale(0.6796,1)" font-size="16.3" font-weight="bold" fill="#111" stroke="#111" stroke-width="0.6" stroke-linejoin="miter">ΗΠΑ</text>
<text xml:space="preserve" transform="translate(4.00,156) scale(0.875,1)" font-size="16" font-weight="bold" fill="#111" stroke="#111" stroke-width="0.4">57,8</text>
<path d="M34.69,144.00V158.80" stroke="#111" stroke-width="1.9"/>
<text xml:space="preserve" transform="translate(38.13,156) scale(0.875,1)" font-size="16" fill="#1f1f1f">10,9</text>
<path d="M68.81,144.00V158.80" stroke="#1f1f1f" stroke-width="1"/>
<text xml:space="preserve" transform="translate(72.26,156) scale(0.875,1)" font-size="16" fill="#1f1f1f">68,7</text>
<text xml:space="preserve" transform="translate(168,173.3) scale(0.6683,1)" font-size="16.3" font-weight="bold" fill="#111" stroke="#111" stroke-width="0.6" stroke-linejoin="miter">ΗΑΕ</text>
<text xml:space="preserve" transform="translate(168.00,189) scale(0.875,1)" font-size="16" font-weight="bold" fill="#111" stroke="#111" stroke-width="0.4">90</text>
<path d="M186.09,177.00V191.80" stroke="#111" stroke-width="1.9"/>
<text xml:space="preserve" transform="translate(188.61,189) scale(0.875,1)" font-size="16" fill="#1f1f1f">9</text>
<path d="M198.91,177.00V191.80" stroke="#1f1f1f" stroke-width="1"/>
<text xml:space="preserve" transform="translate(201.43,189) scale(0.875,1)" font-size="16" fill="#1f1f1f">99</text>
<text xml:space="preserve" transform="translate(772,321.8) scale(0.6974,1)" font-size="16.3" font-weight="bold" fill="#111" stroke="#111" stroke-width="0.6" stroke-linejoin="miter">ΝΟΤΙΟ</text>
<text xml:space="preserve" transform="translate(772,338.3) scale(0.7351,1)" font-size="16.3" font-weight="bold" fill="#111" stroke="#111" stroke-width="0.6" stroke-linejoin="miter">ΣΟΥΔΑΝ</text>
<text xml:space="preserve" transform="translate(74,16.7) scale(0.7693,1)" font-size="16.3" font-weight="bold" fill="#111" stroke="#111" stroke-width="0.6" stroke-linejoin="miter">ΕΕ - Ευρωπαϊκός</text>
<text xml:space="preserve" transform="translate(56,32.8) scale(0.7856,1)" font-size="16.3" font-weight="bold" fill="#111" stroke="#111" stroke-width="0.6" stroke-linejoin="miter">Οικονομικός Χώρος</text>
<text xml:space="preserve" transform="translate(71,177.8) scale(0.7881,1)" font-size="16.3" font-weight="bold" fill="#111" stroke="#111" stroke-width="0.6" stroke-linejoin="miter">Αφρική</text>
<text xml:space="preserve" transform="translate(124.6,212.8) scale(0.7298,1)" font-size="16.3" font-weight="bold" fill="#111" stroke="#111" stroke-width="0.6" stroke-linejoin="miter">Ισραήλ</text>
<text xml:space="preserve" transform="translate(176.2,212.8) scale(0.7432,1)" font-size="16.3" font-weight="bold" fill="#111" stroke="#111" stroke-width="0.6" stroke-linejoin="miter">Αυστραλία</text>
<text xml:space="preserve" transform="translate(669.6,74) scale(0.6939,1)" font-size="30.5" font-weight="bold" fill="#111" stroke="#111" stroke-width="2.0" stroke-linejoin="miter">ΠΟΣΟΙ</text>
<text xml:space="preserve" transform="translate(751,74) scale(0.7042,1)" font-size="30.5" font-weight="bold" fill="#111" stroke="#111" stroke-width="2.0" stroke-linejoin="miter">ΕΧΟΥΝ</text>
<text xml:space="preserve" transform="translate(837.5,74) scale(0.7545,1)" font-size="30.5" font-weight="bold" fill="#111" stroke="#111" stroke-width="2.0" stroke-linejoin="miter">ΕΜΒΟΛΙΑΣΤΕΙ</text>
<text xml:space="preserve" transform="translate(669.5,93.3) scale(0.8147,1)" font-size="13.8" font-weight="normal" fill="#1f1f1f">Ποσοστό (%)</text>
<text xml:space="preserve" transform="translate(676.5,115.5) scale(0.9534,1)" font-size="13" font-weight="bold" fill="#111" stroke="#111" stroke-width="0.6" stroke-linejoin="miter">Πλήρως</text>
<text xml:space="preserve" transform="translate(676.5,131.4) scale(0.9942,1)" font-size="13" font-weight="bold" fill="#111" stroke="#111" stroke-width="0.6" stroke-linejoin="miter">εμβολιασμένοι</text>
<text xml:space="preserve" transform="translate(787.5,115.5) scale(0.9082,1)" font-size="13" font-weight="normal" fill="#1f1f1f">εμβολιασμένοι</text>
<text xml:space="preserve" transform="translate(787.5,131) scale(0.9174,1)" font-size="13" font-weight="normal" fill="#1f1f1f">με μία δόση</text>
<text xml:space="preserve" transform="translate(881.75,115.5) scale(0.9147,1)" font-size="13" font-weight="normal" fill="#1f1f1f">εμβολιασμένοι με</text>
<text xml:space="preserve" transform="translate(881.75,131) scale(0.8925,1)" font-size="13" font-weight="normal" fill="#1f1f1f">τουλάχιστον μία δόση</text>
<text xml:space="preserve" transform="translate(772.00,354) scale(0.875,1)" font-size="16" font-weight="bold" fill="#111" stroke="#111" stroke-width="0.4">1,2</text>
<path d="M794.49,342.00V356.80" stroke="#111" stroke-width="1.9"/>
<text xml:space="preserve" transform="translate(797.52,354) scale(0.875,1)" font-size="16" fill="#1f1f1f">0,5</text>
<path d="M820.01,342.00V356.80" stroke="#1f1f1f" stroke-width="1"/>
<text xml:space="preserve" transform="translate(823.04,354) scale(0.875,1)" font-size="16" fill="#1f1f1f">1,7</text>
<text xml:space="preserve" transform="translate(100.50,48.6) scale(0.875,1)" font-size="16" font-weight="bold" fill="#111" stroke="#111" stroke-width="0.4">66</text>
<path d="M119.56,36.60V51.40" stroke="#111" stroke-width="1.9"/>
<text xml:space="preserve" transform="translate(123.06,48.6) scale(0.875,1)" font-size="16" fill="#1f1f1f">4,3</text>
<path d="M146.01,36.60V51.40" stroke="#1f1f1f" stroke-width="1"/>
<text xml:space="preserve" transform="translate(149.51,48.6) scale(0.875,1)" font-size="16" fill="#1f1f1f">70,3</text>
<text xml:space="preserve" transform="translate(35.00,193) scale(0.875,1)" font-size="16" font-weight="bold" fill="#111" stroke="#111" stroke-width="0.4">7,1</text>
<path d="M58.17,181.00V195.80" stroke="#111" stroke-width="1.9"/>
<text xml:space="preserve" transform="translate(61.88,193) scale(0.875,1)" font-size="16" fill="#1f1f1f">3,6</text>
<path d="M85.05,181.00V195.80" stroke="#1f1f1f" stroke-width="1"/>
<text xml:space="preserve" transform="translate(88.76,193) scale(0.875,1)" font-size="16" fill="#1f1f1f">10,7</text>
<text xml:space="preserve" transform="translate(114.00,227.7) scale(0.875,1)" font-size="16" font-weight="bold" fill="#111" stroke="#111" stroke-width="0.4">64</text>
<path d="M132.44,215.70V230.50" stroke="#111" stroke-width="1.9"/>
<text xml:space="preserve" transform="translate(135.31,227.7) scale(0.875,1)" font-size="16" fill="#1f1f1f">6</text>
<path d="M145.96,215.70V230.50" stroke="#1f1f1f" stroke-width="1"/>
<text xml:space="preserve" transform="translate(148.83,227.7) scale(0.875,1)" font-size="16" fill="#1f1f1f">70</text>
<text xml:space="preserve" transform="translate(187.20,227.7) scale(0.875,1)" font-size="16" font-weight="bold" fill="#111" stroke="#111" stroke-width="0.4">74</text>
<path d="M205.79,215.70V230.50" stroke="#111" stroke-width="1.9"/>
<text xml:space="preserve" transform="translate(208.81,227.7) scale(0.875,1)" font-size="16" fill="#1f1f1f">5</text>
<path d="M219.61,215.70V230.50" stroke="#1f1f1f" stroke-width="1"/>
<text xml:space="preserve" transform="translate(222.63,227.7) scale(0.875,1)" font-size="16" fill="#1f1f1f">79</text>
</g>
</svg></body></html>
